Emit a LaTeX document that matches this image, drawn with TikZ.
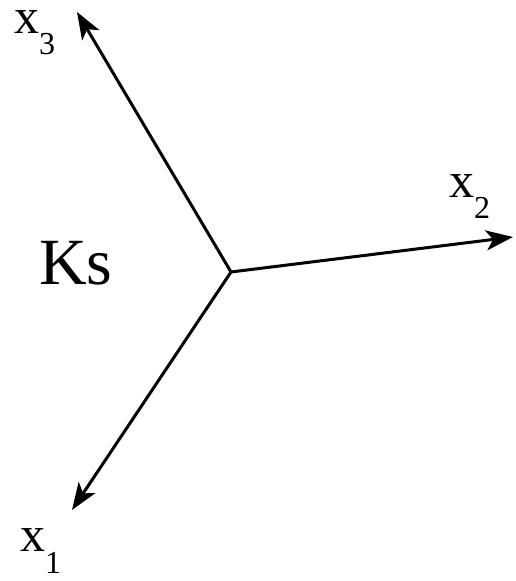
\documentclass[tikz,border=0pt]{standalone}
\usepackage{fontspec}
\setmainfont{Liberation Serif}
\usetikzlibrary{arrows.meta}
\newcommand\axsub[1]{\raisebox{-0.42em}{\fontsize{32}{32}\selectfont #1}}
\begin{document}
\begin{tikzpicture}[x=1pt,y=1pt,
  axis/.style={line width=3pt,-{Stealth[length=27pt,width=20pt,inset=7pt]}},
  axlab/.style={anchor=base west,inner sep=0pt,font=\fontsize{50}{50}\selectfont}]
\useasboundingbox (0,0) rectangle (515,581);
\coordinate (O) at (231,309);
\coordinate (t3) at (77,569);
\coordinate (t2) at (513,344);
\coordinate (t1) at (72,71);
\draw[axis] (O) -- (t3);
\draw[axis] (O) -- (t2);
\draw[axis] (O) -- (t1);
\node[axlab] (l3) at (14,547) {x\axsub{3}};
\node[axlab] (l2) at (449,383) {x\axsub{2}};
\node[axlab] (l1) at (20,29) {x\axsub{1}};
\node[anchor=base west,inner sep=0pt,font=\fontsize{66}{66}\selectfont] (ks) at (39,296) {Ks};
\end{tikzpicture}
\end{document}
